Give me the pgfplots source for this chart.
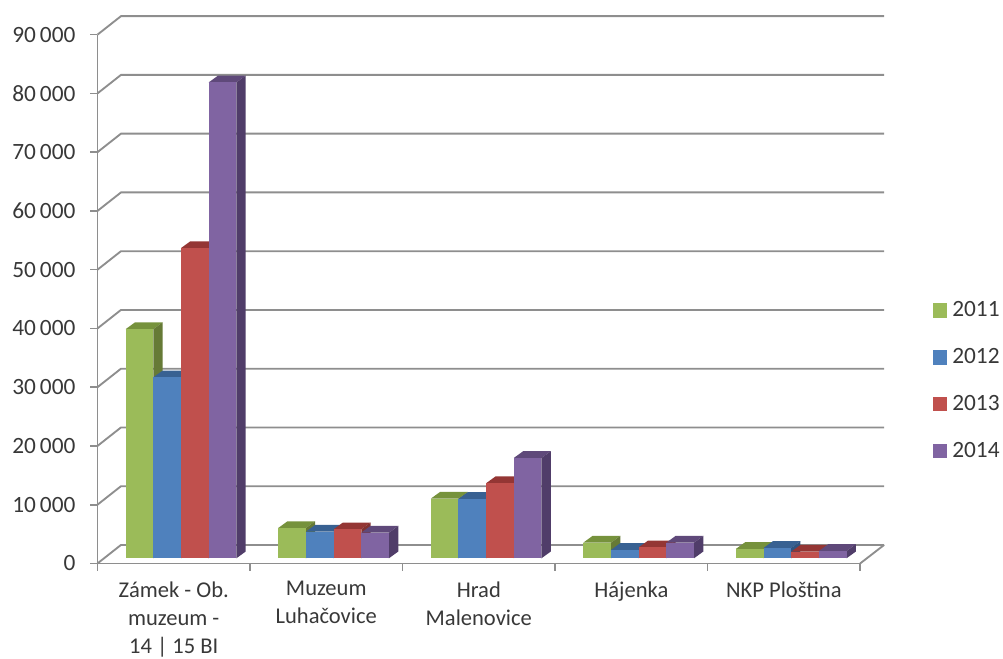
\documentclass[border=0pt]{standalone}
\usepackage{pgfplots}
\pgfplotsset{compat=1.18}
\usepackage{fontspec}
\setmainfont{Carlito}
\definecolor{txt}{HTML}{383838}
\definecolor{gridc}{HTML}{8E8E8E}
\definecolor{gF}{HTML}{9BBB59}\definecolor{gT}{HTML}{76923C}\definecolor{gS}{HTML}{667A36}
\definecolor{bF}{HTML}{4F81BD}\definecolor{bT}{HTML}{386192}\definecolor{bS}{HTML}{2F5480}
\definecolor{rF}{HTML}{C0504D}\definecolor{rT}{HTML}{943634}\definecolor{rS}{HTML}{823230}
\definecolor{pF}{HTML}{8064A2}\definecolor{pT}{HTML}{5F497A}\definecolor{pS}{HTML}{503D69}
% #1 left edge of bar (category units), #2 value, #3 colour prefix
\newcommand\tdbar[3]{%
  \addplot[fill=#3T,draw=none,forget plot] coordinates {({#1},{#2+885}) ({#1+0.1815},{#2+885}) ({#1+0.1815+0.061},{#2+885+1150}) ({#1+0.061},{#2+885+1150})} --cycle;
  \addplot[fill=#3S,draw=none,forget plot] coordinates {({#1+0.1815},885) ({#1+0.1815+0.061},{885+1150}) ({#1+0.1815+0.061},{#2+885+1150}) ({#1+0.1815},{#2+885})} --cycle;
  \addplot[fill=#3F,draw=none,forget plot] coordinates {({#1},885) ({#1+0.1815},885) ({#1+0.1815},{#2+885}) ({#1},{#2+885})} --cycle;
}
\newcommand\wall[1]{%
  \addplot[gridc,line width=1.4pt,forget plot] coordinates {(0,#1) (0.154,{#1+3150}) (5.157,{#1+3150})};
}
\begin{document}
\begin{tikzpicture}
\useasboundingbox (0,0) rectangle (752.25pt,-494.25pt);
\begin{axis}[
  at={(73.1pt,-422.6pt)},anchor=origin,
  scale only axis,width=572pt,height=396.6pt,
  xmin=0,xmax=5,ymin=0,ymax=90000,clip=false,
  scaled y ticks=false,
  axis x line*=bottom,axis y line*=left,
  axis line style={gridc,line width=1.4pt,-},
  tick style={gridc,line width=1.2pt},
  tick align=outside,major tick length=5.5pt,
  xtick={0,1,2,3,4,5},
  x tick label as interval,
  xticklabels={{Zámek - Ob.\\muzeum -\\14 | 15 BI},{Muzeum\\Luhačovice},{Hrad\\Malenovice},{Hájenka},{NKP Ploština}},
  x tick label style={align=center,anchor=north,yshift=-6.8pt,inner sep=1pt,font=\fontsize{16.9}{21}\selectfont,text=txt},
  ytick={0,10000,20000,30000,40000,50000,60000,70000,80000,90000},
  yticklabels={0,10\,000,20\,000,30\,000,40\,000,50\,000,60\,000,70\,000,80\,000,90\,000},
  y tick label style={font=\fontsize{17.5}{20}\selectfont,text=txt,xshift=-7.5pt},
  legend style={at={(1.0957,0.346)},anchor=west,draw=none,fill=none,inner sep=0pt,outer sep=0pt,
    font=\fontsize{17.5}{20}\selectfont,text=txt,row sep=18.2pt,cells={anchor=west}},
  legend cell align=left,
]
\wall{0}\wall{10000}\wall{20000}\wall{30000}\wall{40000}\wall{50000}\wall{60000}\wall{70000}\wall{80000}\wall{90000}
\addplot[gridc,line width=1.4pt,forget plot] coordinates {(5.157,3150) (5,0)};
% group 1
\tdbar{0.185}{39000}{g}\tdbar{0.3665}{30800}{b}\tdbar{0.548}{52800}{r}\tdbar{0.7295}{81000}{p}
% group 2
\tdbar{1.185}{5150}{g}\tdbar{1.3665}{4530}{b}\tdbar{1.548}{4930}{r}\tdbar{1.7295}{4360}{p}
% group 3
\tdbar{2.185}{10140}{g}\tdbar{2.3665}{10100}{b}\tdbar{2.548}{12770}{r}\tdbar{2.7295}{17070}{p}
% group 4
\tdbar{3.185}{2660}{g}\tdbar{3.3665}{1420}{b}\tdbar{3.548}{1850}{r}\tdbar{3.7295}{2660}{p}
% group 5
\tdbar{4.185}{1580}{g}\tdbar{4.3665}{1750}{b}\tdbar{4.548}{1120}{r}\tdbar{4.7295}{1240}{p}
\addlegendimage{legend image code/.code={\fill[gF] (0pt,-5pt) rectangle (10pt,5pt);\path (12pt,0pt);}}
\addlegendentry{2011}
\addlegendimage{legend image code/.code={\fill[bF] (0pt,-5pt) rectangle (10pt,5pt);\path (12pt,0pt);}}
\addlegendentry{2012}
\addlegendimage{legend image code/.code={\fill[rF] (0pt,-5pt) rectangle (10pt,5pt);\path (12pt,0pt);}}
\addlegendentry{2013}
\addlegendimage{legend image code/.code={\fill[pF] (0pt,-5pt) rectangle (10pt,5pt);\path (12pt,0pt);}}
\addlegendentry{2014}
\end{axis}
\end{tikzpicture}
\end{document}
